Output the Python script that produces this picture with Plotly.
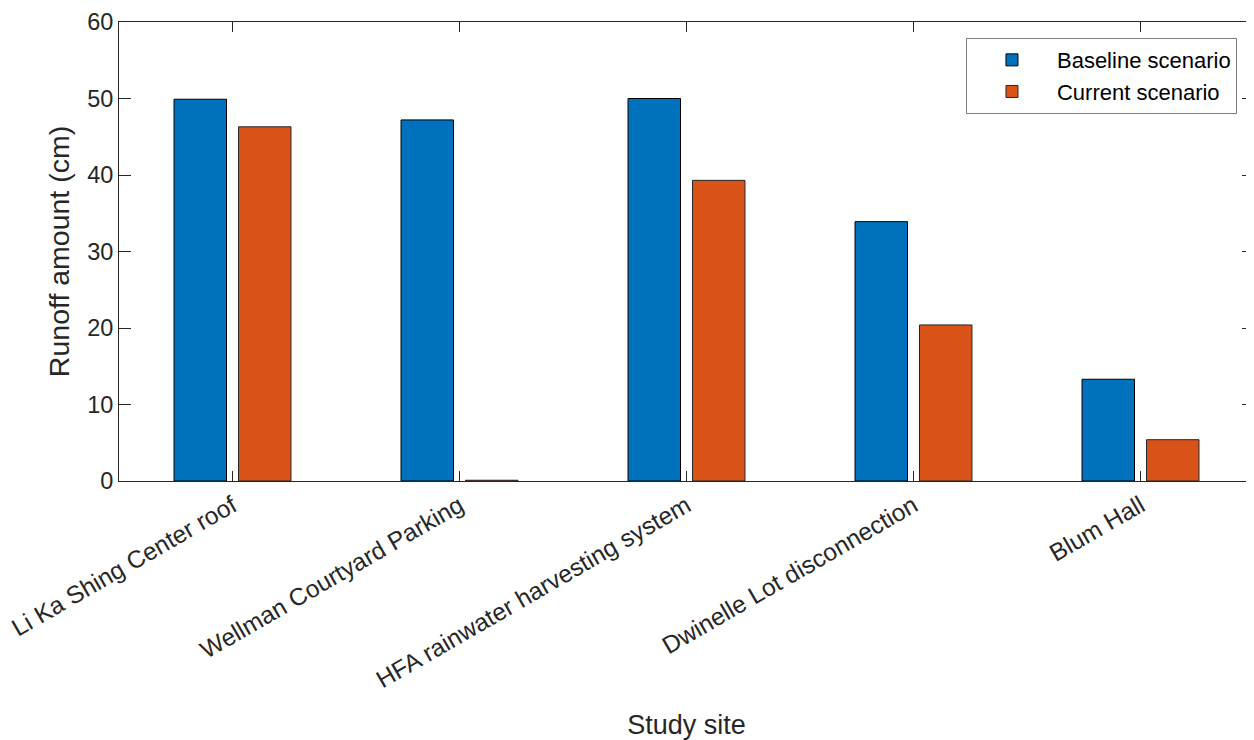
import plotly.graph_objects as go

sites = ["Li Ka Shing Center roof", "Wellman Courtyard Parking",
         "HFA rainwater harvesting system", "Dwinelle Lot disconnection", "Blum Hall"]
baseline = [49.9, 47.2, 50.0, 33.9, 13.3]
current = [46.3, 0.1, 39.3, 20.4, 5.4]
y_ticks = [0, 10, 20, 30, 40, 50, 60]

FONT = "Liberation Sans, Arial, Helvetica, sans-serif"
AX = "#262626"

fig = go.Figure()
fig.add_trace(go.Bar(x=list(range(1, 6)), y=baseline, name="Baseline scenario",
                     marker=dict(color="#0072BD", line=dict(color="#000000", width=1))))
fig.add_trace(go.Bar(x=list(range(1, 6)), y=current, name="Current scenario",
                     marker=dict(color="#D95319", line=dict(color="#262626", width=1))))

# page body has an 8px margin, so the figure is sized to fit the 1254x740 window
fig.update_layout(
    width=1246, height=732,
    margin=dict(l=111, r=0, t=14, b=259, autoexpand=False),
    paper_bgcolor="white", plot_bgcolor="white",
    barmode="group", bargap=0.432, bargroupgap=0.186,
    font=dict(family=FONT, color=AX, size=22),
    legend=dict(x=0.985, y=0.965, xanchor="right", yanchor="top",
                bgcolor="white", bordercolor="#7f7f7f", borderwidth=1,
                font=dict(size=22, color="#000000"), tracegroupgap=0,
                itemwidth=80),
    showlegend=True,
)
fig.update_xaxes(
    range=[0.5, 5.5], tickmode="array", tickvals=list(range(1, 6)), ticktext=sites,
    tickangle=-30, ticks="inside", ticklen=10, tickcolor=AX, tickwidth=1,
    showline=True, linecolor=AX, linewidth=1, mirror="ticks", showgrid=False,
    zeroline=False, tickfont=dict(size=24.5, color=AX), automargin=False,
    ticklabeloverflow="allow",
    title=dict(text="Study site", font=dict(size=27, color=AX), standoff=22),
)
fig.update_yaxes(
    range=[0, 60], tickmode="array", tickvals=y_ticks,
    ticks="inside", ticklen=12, tickcolor=AX, tickwidth=1,
    showline=True, linecolor=AX, linewidth=1, mirror="ticks", showgrid=False,
    zeroline=False, tickfont=dict(size=23.5, color=AX), automargin=False,
    ticklabeloverflow="allow",
    title=dict(text="Runoff amount (cm)", font=dict(size=28.5, color=AX), standoff=9),
)
fig.write_html("out.html")
